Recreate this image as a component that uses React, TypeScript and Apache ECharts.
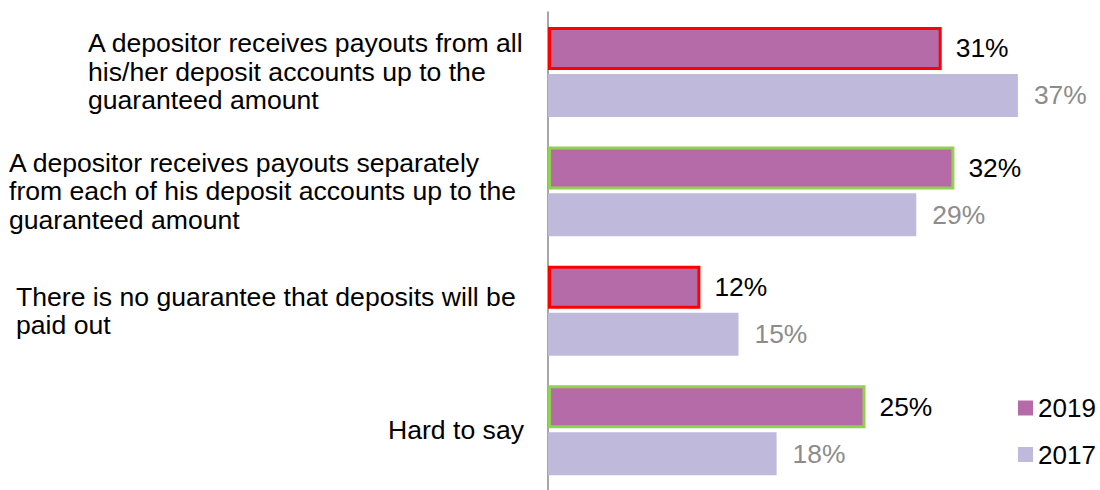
import React, { useEffect, useRef } from "react";
import * as echarts from "echarts";

const categories = [
  "A depositor receives payouts from all\nhis/her deposit accounts up to the\nguaranteed amount",
  "A depositor receives payouts separately\nfrom each of his deposit accounts up to the\nguaranteed amount",
  "There is no guarantee that deposits will be\npaid out",
  "Hard to say",
];
const seriesNames = ["2019", "2017"];
const values2019 = [31, 32, 12, 25];
const values2017 = [37, 29, 15, 18];

const outline2019 = ["#FF0000", "#92D050", "#FF0000", "#92D050"];
const labelBoxWidths = [436, 515, 508, 0];

const FONT = "'Liberation Sans', Arial, sans-serif";

export default function App() {
  const ref = useRef<HTMLDivElement>(null);
  useEffect(() => {
    if (!ref.current) return;
    const chart = echarts.init(ref.current, undefined, { renderer: "svg" });
    const rich: Record<string, any> = {};
    labelBoxWidths.forEach((w, i) => {
      rich["c" + i] = {
        fontSize: 26.6,
        lineHeight: 28.5,
        color: "#000",
        fontFamily: FONT,
        align: w ? "left" : "right",
        ...(w ? { width: w } : {}),
      };
    });
    chart.setOption({
      animation: false,
      textStyle: { fontFamily: FONT },
      legend: {
        orient: "vertical",
        left: 1013,
        top: 390,
        itemWidth: 15,
        itemHeight: 15,
        itemGap: 20.5,
        icon: "rect",
        textStyle: { fontSize: 26, color: "#000", fontFamily: FONT },
        data: seriesNames,
      },
      grid: { left: 548, top: 12.2, width: 508, height: 485.2 },
      xAxis: {
        type: "value",
        min: 0,
        max: 40,
        show: false,
        splitLine: { show: false },
      },
      yAxis: {
        type: "category",
        inverse: true,
        data: categories,
        axisLine: { show: true, lineStyle: { color: "#A6A6A6", width: 2 } },
        axisTick: { show: false },
        axisLabel: {
          margin: 24,
          align: "right",
          fontSize: 26.6,
          lineHeight: 28.5,
          color: "#000",
          fontFamily: FONT,
          formatter: (value: string, index: number) =>
            value
              .split("\n")
              .map((l) => `{c${index}|${l}}`)
              .join("\n"),
          rich,
        },
      },
      series: [
        {
          name: seriesNames[0],
          type: "bar",
          barWidth: 43,
          barGap: "9.3%",
          itemStyle: { color: "#B56BA8" },
          label: {
            show: true,
            position: "right",
            distance: 14,
            formatter: "{c}%",
            fontSize: 26.4,
            color: "#000",
            fontFamily: FONT,
          },
          data: values2019.map((v, i) => ({
            value: v,
            itemStyle: { borderColor: outline2019[i], borderWidth: 3 },
          })),
        },
        {
          name: seriesNames[1],
          type: "bar",
          barWidth: 43,
          barGap: "9.3%",
          itemStyle: { color: "#BFB9DB" },
          label: {
            show: true,
            position: "right",
            distance: 16,
            formatter: "{c}%",
            fontSize: 26.4,
            color: "#8C8C8C",
            fontFamily: FONT,
          },
          data: values2017,
        },
      ],
    });
    return () => chart.dispose();
  }, []);
  return (
    <div
      ref={ref}
      style={{ position: "fixed", left: 0, top: 0, width: 1100, height: 490, background: "#fff" }}
    />
  );
}
